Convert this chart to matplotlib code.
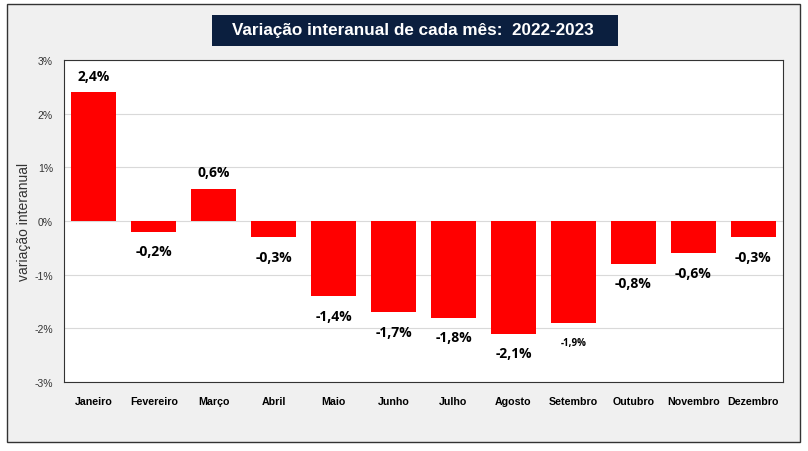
import matplotlib.pyplot as plt
from matplotlib.patches import Rectangle
from matplotlib.ticker import FuncFormatter

meses = ['Janeiro', 'Fevereiro', 'Março', 'Abril', 'Maio', 'Junho',
         'Julho', 'Agosto', 'Setembro', 'Outubro', 'Novembro', 'Dezembro']
variacao = [2.4, -0.2, 0.6, -0.3, -1.4, -1.7, -1.8, -2.1, -1.9, -0.8, -0.6, -0.3]
rotulos = ['2,4%', '-0,2%', '0,6%', '-0,3%', '-1,4%', '-1,7%',
           '-1,8%', '-2,1%', '-1,9%', '-0,8%', '-0,6%', '-0,3%']
titulo = 'Variação interanual de cada mês:  2022-2023'

W, H = 808, 452
fig = plt.figure(figsize=(W / 100, H / 100), dpi=100)
fig.patch.set_facecolor('white')

# moldura exterior
fig.patches.append(Rectangle((7 / W, 1 - 443 / H), 793 / W, 438 / H,
                             transform=fig.transFigure, facecolor='#f0f0f0',
                             edgecolor='#333333', linewidth=1.0, zorder=-5))
# caixa do titulo
fig.patches.append(Rectangle((212 / W, 1 - 47 / H), 406 / W, 31 / H,
                             transform=fig.transFigure, facecolor='#0b1f3f',
                             edgecolor='none', zorder=-4))

ax = fig.add_axes([64 / W, 1 - 383 / H, 719 / W, 322 / H])
ax.set_facecolor('white')

x = range(len(meses))
ax.bar(x, variacao, width=0.75, color='#ff0000', zorder=3)

for i, (v, r) in enumerate(zip(variacao, rotulos)):
    small = meses[i] == 'Setembro'
    off = 12 if v > 0 else -14
    ax.annotate(r, (i, v), xytext=(0, off), textcoords='offset points',
                ha='center', va='center', fontsize=7 if small else 10,
                fontweight='bold', family='Open Sans', color='black')

ax.set_ylim(-3, 3)
ax.set_xlim(-0.5, len(meses) - 0.5)
ax.set_yticks([-3, -2, -1, 0, 1, 2, 3])
ax.yaxis.set_major_formatter(FuncFormatter(lambda v, p: f'{v:.0f}%'))
ax.grid(axis='y', color='#d9d9d9', linewidth=0.8, zorder=0)
ax.set_axisbelow(True)
ax.set_xticks(list(x))
ax.set_xticklabels(meses, fontsize=7.7, fontweight='bold', family='Liberation Sans')
ax.tick_params(axis='y', length=0, pad=8, labelcolor='#333333')
ax.tick_params(axis='x', length=0, pad=10)
for lab in ax.get_yticklabels():
    lab.set_fontsize(7.5)
    lab.set_family('Liberation Sans')
for s in ax.spines.values():
    s.set_color('#333333')
    s.set_linewidth(0.8)
ax.set_ylabel('variação interanual', fontsize=10, family='Liberation Sans',
              color='#333333', labelpad=2)

fig.text(413 / W, 1 - 31 / H, titulo, ha='center', va='center',
         fontsize=12.3, fontweight='bold', color='white', family='Liberation Sans')

fig.savefig('out.png', dpi=100)
